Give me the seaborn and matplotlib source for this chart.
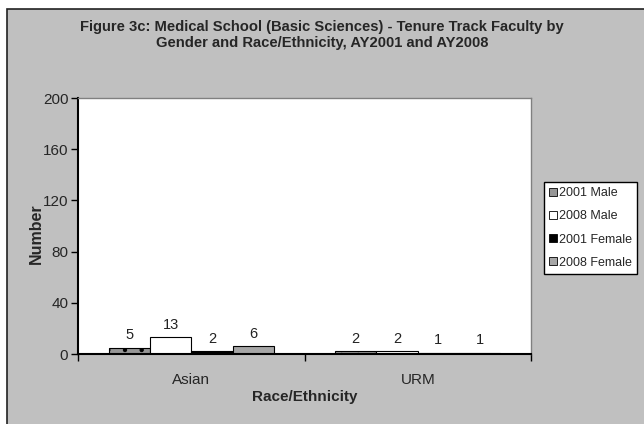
"""
Figure 3c: Medical School (Basic Sciences) - Tenure Track Faculty
by Gender and Race/Ethnicity, AY2001 and AY2008

Output: out.png
"""

import matplotlib.pyplot as plt
from matplotlib.patches import Rectangle, Patch
import pandas as pd
import seaborn as sns

categories = ['Asian', 'URM']
series = ['2001 Male', '2008 Male', '2001 Female', '2008 Female']
male_2001 = [5, 2]
male_2008 = [13, 2]
female_2001 = [2, 1]
female_2008 = [6, 1]

colors = ['#969696', '#FFFFFF', '#000000', '#A6A6A6']
BG = '#C0C0C0'

sns.set_theme(style='white')
plt.rcParams['font.family'] = ['Liberation Sans', 'DejaVu Sans']
plt.rcParams['hatch.linewidth'] = 0.7
plt.rcParams['hatch.color'] = '#333333'


def create_chart():
    rows = []
    for name, vals in zip(series, [male_2001, male_2008, female_2001, female_2008]):
        for cat, v in zip(categories, vals):
            rows.append({'Race/Ethnicity': cat, 'Series': name, 'Number': v})
    df = pd.DataFrame(rows)

    fig = plt.figure(figsize=(6.44, 4.24), dpi=100)
    fig.patch.set_facecolor('white')
    # grey chart area with a dark border (offset like the original export)
    fig.patches.append(Rectangle((7 / 644, -0.01), 1.0, 1 - 9 / 424 + 0.01,
                                 transform=fig.transFigure, facecolor=BG,
                                 edgecolor='#222222', lw=1.2, zorder=-1))

    ax = fig.add_axes([78 / 644, 70 / 424, 453 / 644, 256 / 424])
    ax.set_facecolor('white')

    sns.barplot(data=df, x='Race/Ethnicity', y='Number', hue='Series',
                hue_order=series, order=categories, palette=colors,
                width=0.73, edgecolor='black', linewidth=0.8,
                legend=False, ax=ax, zorder=2)

    for i, cont in enumerate(ax.containers):
        if i == 0:
            for bar in cont:
                bar.set_hatch('.')
        ax.bar_label(cont, padding=4, fontsize=10.5, color='#222222')

    ax.set_ylim(0, 200)
    ax.set_yticks(range(0, 201, 40))
    ax.set_xlim(-0.5, 1.5)
    ax.set_xticks([0, 1])
    ax.set_xticks([-0.5, 0.5, 1.5], minor=True)
    ax.tick_params(axis='x', which='major', length=0, labelsize=11, pad=14)
    ax.tick_params(axis='x', which='minor', length=5, width=1, direction='out',
                   bottom=True, color='black')
    ax.tick_params(axis='y', length=5, width=1, direction='out', left=True,
                   labelsize=11, color='black', pad=2)

    for side in ['left', 'bottom']:
        ax.spines[side].set_color('black')
        ax.spines[side].set_linewidth(1.5)
    for side in ['top', 'right']:
        ax.spines[side].set_color('#808080')
        ax.spines[side].set_linewidth(1)

    ax.set_xlabel('Race/Ethnicity', fontsize=11, fontweight='bold', labelpad=2)
    ax.set_ylabel('Number', fontsize=11.5, fontweight='bold')
    ax.yaxis.set_label_coords(-0.075, 0.47)

    fig.text(0.5, 1 - 35 / 424,
             'Figure 3c: Medical School (Basic Sciences) - Tenure Track Faculty by\n'
             'Gender and Race/Ethnicity, AY2001 and AY2008',
             ha='center', va='center', fontsize=10.6, fontweight='bold',
             linespacing=1.2)

    handles = []
    for i, (name, c) in enumerate(zip(series, colors)):
        handles.append(Patch(facecolor=c, edgecolor='black', lw=0.6,
                             hatch='.' if i == 0 else None, label=name))
    fig.legend(handles=handles, loc='upper left',
               bbox_to_anchor=(544 / 644, 1 - 182 / 424),
               frameon=True, fancybox=False, edgecolor='black',
               facecolor='white', framealpha=1, fontsize=9,
               handlelength=0.6, handleheight=0.6, handletextpad=0.2,
               labelspacing=0.9, borderpad=0.4, borderaxespad=0)

    fig.savefig('out.png', dpi=100)
    plt.close(fig)


if __name__ == '__main__':
    create_chart()
